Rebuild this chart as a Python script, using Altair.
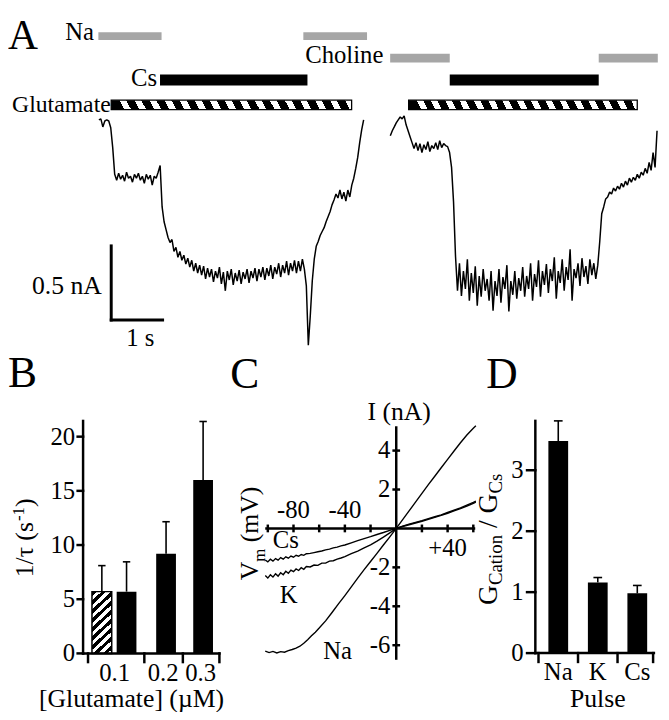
import altair as alt
import pandas as pd

FONT = "Liberation Serif"

# ---------------- Panel A: current traces (pA), digitised every SAMPLE_DT seconds ----------------
SAMPLE_DT = 2 / 52
TRACE1_T0 = 0.0
TRACE2_T0 = 5.673
TRACE1_PA = [0, 7, -47, -7, 0, -7, -53, -187,
             -367, -407, -360, -400, -373, -413, -353, -393, -380, -420, -367, -393, -360, -407, -380, -427,
             -367, -400, -373, -440, -380, -393, -353,
             -307,
             -587, -687, -740, -793, -827, -807, -887, -860, -927, -887, -947, -913, -973, -933, -993, -947,
             -1020, -967, -1033, -980, -1047, -987, -1073, -1000, -1060, -1007, -1093, -1020, -1067, -993,
             -1107, -1027,
             -1153, -1020, -1080, -1007, -1113, -1033, -1087, -1013, -1107, -1027, -1073, -1007, -1100, -1020,
             -1067, -1000, -1087, -1007, -1060, -993, -1080, -1000, -1053, -980, -1073, -993, -1040, -967,
             -1060, -980, -1033, -953, -1047, -967, -1020, -947, -1033, -953, -1020, -940, -1007,
             -1120, -1520, -1320, -1087, -940, -853, -820, -780, -753, -727, -687, -653, -620, -573, -540,
             -500, -527, -473, -533, -487, -547, -473, -520, -440, -393, -327, -253, -153, -67, 0]
TRACE2_PA = [-107, -73, -47, -20, 0, 20, 7, 27, -33, -73, -113, -153, -193, -153, -207, -160, -220, -167,
             -200, -147, -213, -173, -193, -153, -200, -140, -187, -160, -173, -180, -220, -320, -553, -920,
             -1153,
             -967, -1187, -1020, -1140, -940, -1220, -1033, -1167, -987, -1253, -1053, -1193, -1007, -1153,
             -1073, -1220, -1020, -1287, -1087, -1187, -1007, -1233, -1060, -1140, -980, -1293, -1087, -1180,
             -1020, -1207, -1067, -1153, -993, -1193, -1053, -1140, -967, -1220, -1040, -1127, -947, -1193,
             -1020, -1113, -973, -1167, -1007, -1087, -927, -1207, -1020, -1100, -940, -1153, -993, -1080,
             -873, -1220, -1007, -1067, -967, -1120, -933, -1060, -987, -1107, -940, -1047, -967, -1073, -980,
             -820, -633, -587, -533, -520, -487, -500, -460, -480, -447, -467, -427, -453, -413, -440, -393,
             -420, -387, -407, -367, -393, -353, -373, -327, -360, -287, -340, -220, -320, -73]

APP_SOLUTION = ["Na", "Na", "Choline", "Choline", "Cs", "Cs", "Glutamate", "Glutamate"]
APP_START = [-0.01, 3.98, 5.67, 9.73, 1.19, 6.83, 0.24, 6.03]
APP_END = [1.22, 5.22, 6.83, 10.88, 4.06, 9.73, 4.92, 10.48]

SCALEBAR_T = 1.0      # s
SCALEBAR_PA = 500     # pA

# ---------------- Panel B ----------------
B_GROUP = ["0.1", "0.1", "0.2", "0.3"]
B_KIND = ["hatched", "solid", "solid", "solid"]
B_VALUE = [5.7, 5.7, 9.2, 16.0]
B_ERR = [2.4, 2.75, 2.95, 5.4]
B_YTICKS = [0, 5, 10, 15, 20]
B_XLABELS = ["0.1", "0.2", "0.3"]

# ---------------- Panel C: I-V curves ----------------
NA_V = [-102, -99, -96, -93, -90, -87, -84, -81, -78, -75, -72, -69, -66, -63, -60, -55, -50, -45, -40, -35,
        -30, -25, -20, -15, -10, -5, 0, 5, 10, 15, 20, 25, 30, 35, 40, 45, 50, 55, 60, 62]
NA_I = [-6.30, -6.38, -6.32, -6.40, -6.33, -6.36, -6.28, -6.22, -6.15, -6.05, -5.90, -5.72, -5.52, -5.33,
        -5.12, -4.75, -4.32, -3.88, -3.45, -3.00, -2.55, -2.12, -1.70, -1.28, -0.85, -0.43, 0.00, 0.45, 0.90,
        1.35, 1.80, 2.25, 2.68, 3.12, 3.55, 3.98, 4.40, 4.80, 5.15, 5.28]
KC_V = [-102, -100, -98, -96, -94, -92, -90, -88, -86, -84, -82, -80, -78, -76, -74, -72, -70, -67, -64, -61,
        -58, -55, -52, -49, -46, -43, -40, -35, -30, -25, -20, -15, -10, -5, 0, 5, 10, 15, 20, 25, 30, 35,
        40, 45, 50, 55, 60, 62]
K_I = [-2.42, -2.55, -2.38, -2.50, -2.33, -2.45, -2.28, -2.38, -2.20, -2.30, -2.14, -2.22, -2.08, -2.16,
       -2.02, -2.10, -1.96, -1.98, -1.88, -1.90, -1.78, -1.78, -1.68, -1.66, -1.58, -1.52, -1.45, -1.30,
       -1.16, -1.00, -0.84, -0.65, -0.45, -0.23, 0.00, 0.12, 0.22, 0.31, 0.40, 0.50, 0.60, 0.70, 0.82, 0.94,
       1.06, 1.20, 1.34, 1.40]
CS_I = [-1.62, -1.72, -1.58, -1.68, -1.55, -1.63, -1.50, -1.58, -1.46, -1.53, -1.42, -1.48, -1.38, -1.43,
        -1.34, -1.38, -1.30, -1.28, -1.24, -1.20, -1.16, -1.10, -1.06, -1.00, -0.96, -0.90, -0.85, -0.74,
        -0.63, -0.52, -0.42, -0.31, -0.21, -0.10, 0.00, 0.10, 0.19, 0.28, 0.37, 0.47, 0.57, 0.67, 0.78, 0.90,
        1.02, 1.15, 1.29, 1.35]
C_XTICKS = [-100, -80, -60, -40, -20, 20, 40, 60]
C_YTICKS = [-6, -4, -2, 2, 4]
C_XLABELS = ["-80", "-40", "+40"]
C_YLABELS = ["4", "2", "-2", "-4", "-6"]

# ---------------- Panel D ----------------
D_IONS = ["Na", "K", "Cs"]
D_VALUE = [3.48, 1.16, 0.98]
D_ERR = [0.33, 0.08, 0.13]
D_YTICKS = [0, 1, 2, 3]

# ================= layout (scales mapped to pixel ranges) =================
def S(domain, rng):
    return alt.Scale(domain=domain, range=rng, nice=False, zero=False)

XA, YA = S([-1.5, 11], [14, 664]), S([-1600, 700], [349, 4])
XB, YB = S([0, 6], [70, 220]), S([0, 22], [649, 407.66])
XC, YC = S([-110, 70], [250, 484]), S([-7, 5.5], [660.4, 414.15])
XD, YD = S([0, 3.5], [517, 657]), S([0, 4], [648.7, 401.9])

ROW = {"Na": (540, 591), "Choline": (387, 447), "Cs": (233, 307), "Glutamate": (70, 133)}
SB_T0, SB_I0 = 0.24, -1350

B_SLOT = [1.0, 2.0, 3.6, 5.1]
B_HALF, B_CAP = 0.4, 0.15
B_AX, B_TOP, B_RIGHT = 0.24, 21.45, 5.76
B_SEP = [0.44, 2.72, 4.28, 5.76]
B_LABEL_SLOT = [1.52, 3.48, 5.0]

D_SLOT = [1, 2, 3]
D_HALF, D_CAP = 0.25, 0.11
D_AX, D_TOP, D_RIGHT = 0.42, 3.81, 3.42
D_SEP = [0.5, 1.5, 2.5, 3.4]


def stripes(n, duty, tmax=1.0):
    stops, p = [], tmax / n
    for k in range(n):
        a, b, c = k * p, k * p + duty * p, (k + 1) * p
        stops += [{"offset": round(a, 4), "color": "black"}, {"offset": round(b, 4), "color": "black"},
                  {"offset": round(b, 4), "color": "white"}, {"offset": round(min(c, 1), 4), "color": "white"}]
    return stops


GLUT_FILL = {"gradient": "linear", "x1": 0, "y1": 0, "x2": 1, "y2": -0.02, "stops": stripes(16, 0.55)}
BAR_FILL = {"gradient": "linear", "x1": 0, "y1": 0, "x2": 0.36, "y2": 1.2, "stops": stripes(9, 0.5)}


def enc(xs, ys, x="x", y="y", x2=None, y2=None):
    e = dict(x=alt.X(f"{x}:Q", scale=xs, axis=None), y=alt.Y(f"{y}:Q", scale=ys, axis=None))
    if x2:
        e["x2"] = alt.X2(f"{x2}:Q")
    if y2:
        e["y2"] = alt.Y2(f"{y2}:Q")
    return e


def rules(rows, xs, ys, width=2.5, cap="butt"):
    df = pd.DataFrame(rows, columns=["x", "x2", "y", "y2"])
    return alt.Chart(df).mark_rule(color="black", strokeWidth=width, strokeCap=cap).encode(
        **enc(xs, ys, "x", "y", "x2", "y2"))


def texts(xs, ys, xv, yv, labels, size=24, align="center", baseline="middle"):
    df = pd.DataFrame({"x": xv, "y": yv, "label": labels})
    return alt.Chart(df).mark_text(font=FONT, fontSize=size, align=align, baseline=baseline,
                                   color="black").encode(**enc(xs, ys), text="label:N")


# ---------------- Panel A ----------------
tr = [{"t": TRACE1_T0 + k * SAMPLE_DT, "i": v, "trace": "Cs"} for k, v in enumerate(TRACE1_PA)]
tr += [{"t": TRACE2_T0 + k * SAMPLE_DT, "i": v, "trace": "Choline"} for k, v in enumerate(TRACE2_PA)]
traces = alt.Chart(pd.DataFrame(tr)).mark_line(color="black", strokeWidth=1.5, strokeJoin="bevel").encode(
    **enc(XA, YA, "t", "i"), detail="trace:N")

app = pd.DataFrame({"sol": APP_SOLUTION, "t": APP_START, "t2": APP_END})
app["lo"] = [ROW[s][0] for s in app["sol"]]
app["hi"] = [ROW[s][1] for s in app["sol"]]
gray_bars = alt.Chart(app[app.sol.isin(["Na", "Choline"])]).mark_rect(fill="#a6a6a6").encode(
    **enc(XA, YA, "t", "lo", "t2", "hi"))
cs_bars = alt.Chart(app[app.sol == "Cs"]).mark_rect(fill="black").encode(**enc(XA, YA, "t", "lo", "t2", "hi"))
glut_bars = alt.Chart(app[app.sol == "Glutamate"]).mark_rect(fill=GLUT_FILL, stroke="black",
                                                             strokeWidth=1.3).encode(
    **enc(XA, YA, "t", "lo", "t2", "hi"))
scalebar = rules([[SB_T0, SB_T0, SB_I0, SB_I0 + SCALEBAR_PA],
                  [SB_T0, SB_T0 + SCALEBAR_T, SB_I0, SB_I0]], XA, YA, width=3, cap="square")
panelA = alt.layer(gray_bars, cs_bars, glut_bars, traces, scalebar)

# ---------------- Panel B ----------------
bdf = pd.DataFrame({"group": B_GROUP, "kind": B_KIND, "v": B_VALUE, "err": B_ERR, "s": B_SLOT})
bdf["xa"], bdf["xb"], bdf["zero"] = bdf.s - B_HALF, bdf.s + B_HALF, 0.0
bdf["top"] = bdf.v + bdf.err
bdf["ca"], bdf["cb"] = bdf.s - B_CAP, bdf.s + B_CAP
b_err = alt.Chart(bdf).mark_rule(color="black", strokeWidth=1.6).encode(**enc(XB, YB, "s", "v", None, "top"))
b_cap = alt.Chart(bdf).mark_rule(color="black", strokeWidth=1.6).encode(**enc(XB, YB, "ca", "top", "cb", None))
b_solid = alt.Chart(bdf[bdf.kind == "solid"]).mark_rect(fill="black").encode(**enc(XB, YB, "xa", "zero", "xb", "v"))
b_hatch = alt.Chart(bdf[bdf.kind == "hatched"]).mark_rect(fill=BAR_FILL, stroke="black", strokeWidth=1.5).encode(
    **enc(XB, YB, "xa", "zero", "xb", "v"))
b_axes = rules([[B_AX, B_AX, 0, B_TOP], [B_AX, B_RIGHT, 0, 0]]
               + [[B_AX - 0.22, B_AX, t, t] for t in B_YTICKS]
               + [[s, s, 0, -0.8] for s in B_SEP], XB, YB, width=2.5, cap="square")
b_ylab = texts(XB, YB, [-0.08] * len(B_YTICKS), B_YTICKS, [str(t) for t in B_YTICKS], size=25, align="right")
b_xlab = texts(XB, YB, B_LABEL_SLOT, [-1.82] * 3, B_XLABELS, size=25)
b_title = texts(XB, YB, [2.2], [-4.2], ["[Glutamate] (µM)"], size=26)
panelB = alt.layer(b_err, b_cap, b_solid, b_hatch, b_axes, b_ylab, b_xlab, b_title)

# ---------------- Panel C ----------------
cdf = pd.DataFrame({"v": NA_V + KC_V + KC_V, "i": NA_I + K_I + CS_I,
                    "ion": ["Na"] * len(NA_V) + ["K"] * len(KC_V) + ["Cs"] * len(KC_V)})
c_lines = alt.Chart(cdf).mark_line(color="black", strokeWidth=1.4).encode(**enc(XC, YC, "v", "i"), detail="ion:N")
c_axes = rules([[-102, 61.5, 0, 0], [0, 0, -6.75, 5.25]]
               + [[t, t, -0.2, 0.2] for t in C_XTICKS]
               + [[-3, 3, t, t] for t in C_YTICKS], XC, YC, width=2.5)
c_xlab = texts(XC, YC, [-80, -40, 40], [0.95, 0.95, -0.99], C_XLABELS, size=25)
c_ylab = texts(XC, YC, [-4.6] * 5, [4, 2, -2, -4, -6], C_YLABELS, size=25, align="right")
c_ilab = texts(XC, YC, [2.3], [6.0], ["I (nA)"], size=26)
c_ion = texts(XC, YC, [-96.2, -90.8, -56.9], [-0.61, -3.40, -6.32], ["Cs", "K", "Na"], size=25, align="left")
panelC = alt.layer(c_axes, c_lines, c_xlab, c_ylab, c_ilab, c_ion)

# ---------------- Panel D ----------------
ddf = pd.DataFrame({"ion": D_IONS, "v": D_VALUE, "err": D_ERR, "s": D_SLOT})
ddf["xa"], ddf["xb"], ddf["zero"] = ddf.s - D_HALF, ddf.s + D_HALF, 0.0
ddf["top"] = ddf.v + ddf.err
ddf["ca"], ddf["cb"] = ddf.s - D_CAP, ddf.s + D_CAP
d_err = alt.Chart(ddf).mark_rule(color="black", strokeWidth=1.6).encode(**enc(XD, YD, "s", "v", None, "top"))
d_cap = alt.Chart(ddf).mark_rule(color="black", strokeWidth=1.6).encode(**enc(XD, YD, "ca", "top", "cb", None))
d_bars = alt.Chart(ddf).mark_rect(fill="black").encode(**enc(XD, YD, "xa", "zero", "xb", "v"))
d_axes = rules([[D_AX, D_AX, 0, D_TOP], [D_AX, D_RIGHT, 0, 0]]
               + [[D_AX - 0.21, D_AX, t, t] for t in D_YTICKS]
               + [[s, s, 0, -0.145] for s in D_SEP], XD, YD, width=2.5, cap="square")
d_ylab = texts(XD, YD, [0.125] * 4, D_YTICKS, [str(t) for t in D_YTICKS], size=25, align="right")
d_xlab = texts(XD, YD, D_SLOT, [-0.31] * 3, D_IONS, size=25)
d_title = texts(XD, YD, [2.0], [-0.75], ["Pulse"], size=26)
panelD = alt.layer(d_err, d_cap, d_bars, d_axes, d_ylab, d_xlab, d_title)

# ---------------- free annotations ----------------
ONE = pd.DataFrame({"k": [0]})
WIDTH = {"G": .722, "C": .667, "a": .444, "t": .278, "i": .278, "o": .5, "n": .5, " ": .25, "/": .278,
         "s": .389, "1": .5, "τ": .44, "(": .333, ")": .333, "-": .333, "V": .722, "m": .778}


def label(txt, x, y, size=25, align="left", baseline="alphabetic", angle=0):
    kw = dict(text=txt, font=FONT, fontSize=size, align=align, baseline=baseline, color="black")
    if angle:
        kw["angle"] = angle
    return alt.Chart(ONE).mark_text(**kw).encode(x=alt.value(x), y=alt.value(y))


def vertical(segs, y0):
    out, y = [], y0
    for txt, size, xb in segs:
        lead = (len(txt) - len(txt.lstrip())) * WIDTH[" "] * size
        out.append(label(txt.strip(), xb, y - lead, size=size, angle=270))
        y -= sum(WIDTH.get(c, .5) for c in txt) * size
    return out


notes = [
    label("A", 0, 37, 42), label("B", 0, 379, 44), label("C", 225, 380, 44), label("D", 484, 380, 44),
    label("Na", 87, 28, 25, align="right"), label("Choline", 380, 51, 25, align="right"),
    label("Cs", 151, 75, 25, align="right"), label("Glutamate", 104, 101, 24, align="right"),
    label("0.5 nA", 95, 277, 26, align="right", baseline="middle"),
    label("1 s", 134, 330, 25, align="center", baseline="middle"),
]
notes += vertical([("1/τ (s", 26, 25), ("-1", 17, 16), (")", 26, 25)], 572)
notes += vertical([("V", 26, 253), ("m", 17, 260), (" (mV)", 26, 253)], 575)
notes += vertical([("G", 28, 495), ("Cation", 19, 500), (" / ", 28, 495), ("G", 28, 495), ("Cs", 19, 500)], 600)
annotations = alt.layer(*notes)

chart = alt.layer(panelA, panelB, panelC, panelD, annotations).resolve_scale(
    x="independent", y="independent"
).properties(
    width=661, height=704, padding=0, autosize=alt.AutoSizeParams(type="none")
).configure_view(stroke=None)

chart.save("out.html", embed_options={"renderer": "svg", "actions": False})
